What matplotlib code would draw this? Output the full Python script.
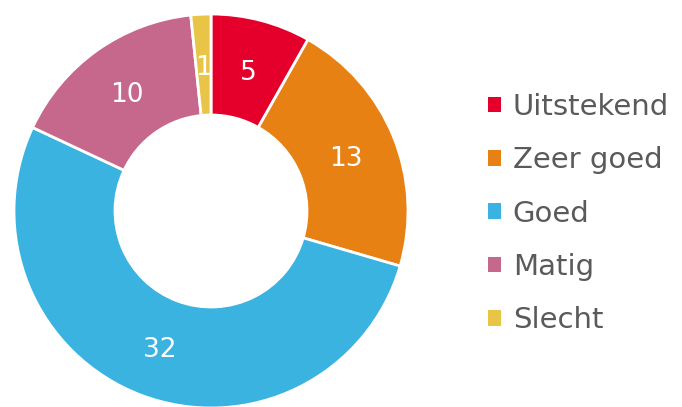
import matplotlib.pyplot as plt
from matplotlib.patches import Patch

# data
labels = ['Uitstekend', 'Zeer goed', 'Goed', 'Matig', 'Slecht']
values = [5, 13, 32, 10, 1]
colors = ['#E4002B', '#E88114', '#3AB3E1', '#C6688B', '#E8C547']

plt.rcParams['font.family'] = ['DejaVu Sans']

fig = plt.figure(figsize=(6.82, 4.07), dpi=100)
ax = fig.add_axes([0, 0, 1, 1])

outer = 197
wedges, texts = ax.pie(values, labels=[str(v) for v in values], colors=colors,
                       startangle=90, counterclock=False,
                       center=(211, 196), radius=outer,
                       labeldistance=0.74,
                       wedgeprops=dict(width=101, edgecolor='white', linewidth=2),
                       textprops=dict(color='white', fontsize=19))
for t in texts:
    t.set_horizontalalignment('center')
    t.set_verticalalignment('center_baseline')

ax.set_xlim(0, 682)
ax.set_ylim(0, 407)
ax.set_aspect('equal')
ax.axis('off')

handles = [Patch(facecolor=c, edgecolor='none') for c in colors]
leg = ax.legend(handles, labels, loc='center left', bbox_to_anchor=(0.677, 0.475),
                frameon=False, fontsize=21, handlelength=0.45, handleheight=0.45,
                handletextpad=0.4, labelspacing=0.87)
for t in leg.get_texts():
    t.set_color('#5a5a5a')

fig.savefig('out.png', dpi=100)
